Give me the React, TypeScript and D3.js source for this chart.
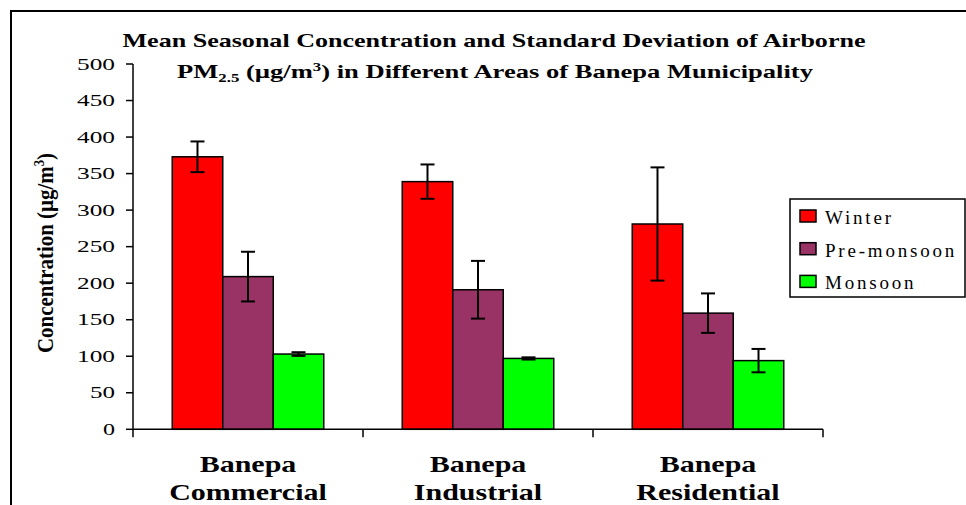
import React from "react";
import * as d3 from "d3";

const categories = ["Banepa Commercial", "Banepa Industrial", "Banepa Residential"];
const seriesNames = ["Winter", "Pre-monsoon", "Monsoon"];
const winterMean = [373, 339, 281];
const winterSD = [21, 23.5, 77.5];
const premonsoonMean = [209, 191, 159];
const premonsoonSD = [34, 39.5, 27];
const monsoonMean = [103, 97, 94];
const monsoonSD = [2.5, 1.5, 16];
const yTicks = [0, 50, 100, 150, 200, 250, 300, 350, 400, 450, 500];
const colors = ["#FF0000", "#993366", "#00FF00"];

const means = [winterMean, premonsoonMean, monsoonMean];
const sds = [winterSD, premonsoonSD, monsoonSD];

export default function App() {
  const W = 966, H = 505;
  const x0 = d3.scaleBand<string>().domain(categories).range([133, 823]).paddingInner(0).paddingOuter(0);
  const x1 = d3.scaleBand<string>().domain(seriesNames).range([0, x0.bandwidth()]).paddingInner(0).paddingOuter(0.777);
  const y = d3.scaleLinear().domain([0, 500]).range([429.3, 64]);
  const serif = "'Liberation Serif', 'Times New Roman', serif";

  return (
    <svg width={W} height={H} style={{ position: "absolute", left: 0, top: 0, background: "#fff" }} fontFamily={serif}>
      <rect x={0} y={0} width={W} height={H} fill="#fff" />
      {/* outer frame */}
      <path d={`M11,${H + 5} L11,11 L${W + 5},11`} fill="none" stroke="#000" strokeWidth={2} />

      {/* title */}
      <text x={494} y={47} textAnchor="middle" fontWeight="bold" fontSize={19} textLength={743} lengthAdjust="spacingAndGlyphs">
        Mean Seasonal Concentration and Standard Deviation of Airborne
      </text>
      <text x={495} y={78} textAnchor="middle" fontWeight="bold" fontSize={19} textLength={636} lengthAdjust="spacingAndGlyphs">
        PM<tspan fontSize={12} dy={4}>2.5</tspan><tspan dy={-4}> (µg/m</tspan><tspan fontSize={12} dy={-7}>3</tspan><tspan dy={7}>) in Different Areas of Banepa Municipality</tspan>
      </text>

      {/* bars */}
      {categories.map((c, ci) => (
        <g key={c} transform={`translate(${x0(c)},0)`}>
          {seriesNames.map((s, si) => {
            const v = means[si][ci];
            const sd = sds[si][ci];
            const bx = x1(s)!;
            const bw = x1.bandwidth();
            const cx = bx + bw / 2;
            return (
              <g key={s}>
                <rect x={bx} y={y(v)} width={bw} height={y(0) - y(v)} fill={colors[si]} stroke="#000" strokeWidth={1.5} />
                <line x1={cx} x2={cx} y1={y(v + sd)} y2={y(v - sd)} stroke="#000" strokeWidth={2} />
                <line x1={cx - 7} x2={cx + 7} y1={y(v + sd)} y2={y(v + sd)} stroke="#000" strokeWidth={2} />
                <line x1={cx - 7} x2={cx + 7} y1={y(v - sd)} y2={y(v - sd)} stroke="#000" strokeWidth={2} />
              </g>
            );
          })}
        </g>
      ))}

      {/* y axis */}
      <line x1={133} x2={133} y1={y(500)} y2={y(0) + 8} stroke="#000" strokeWidth={1.5} />
      {yTicks.map((t) => (
        <g key={t}>
          <line x1={126} x2={133} y1={y(t)} y2={y(t)} stroke="#000" strokeWidth={1.5} />
          <text x={115} y={y(t) + 5.5} textAnchor="end" fontSize={16} textLength={String(t).length * 13 - 1} lengthAdjust="spacingAndGlyphs">
            {t}
          </text>
        </g>
      ))}

      {/* x axis */}
      <line x1={133} x2={823} y1={y(0)} y2={y(0)} stroke="#000" strokeWidth={1.5} />
      {categories.map((c) => (
        <line key={c} x1={x0(c)! + x0.bandwidth()} x2={x0(c)! + x0.bandwidth()} y1={y(0)} y2={y(0) + 8} stroke="#000" strokeWidth={1.5} />
      ))}
      {categories.map((c) => {
        const parts = c.split(" ");
        const cx = x0(c)! + x0.bandwidth() / 2;
        return (
          <g key={c}>
            <text transform={`translate(${cx},472) scale(1.25,1)`} textAnchor="middle" fontWeight="bold" fontSize={24}>{parts[0]}</text>
            <text transform={`translate(${cx},500) scale(1.25,1)`} textAnchor="middle" fontWeight="bold" fontSize={24}>{parts[1]}</text>
          </g>
        );
      })}

      {/* y title */}
      <text transform="translate(53,253) rotate(-90)" textAnchor="middle" fontWeight="bold" fontSize={23} textLength={200} lengthAdjust="spacingAndGlyphs">
        Concentration (µg/m<tspan fontSize={14} dy={-9}>3</tspan><tspan dy={9}>)</tspan>
      </text>

      {/* legend */}
      <rect x={790} y={199} width={175} height={98} fill="#fff" stroke="#000" strokeWidth={1.5} />
      {seriesNames.map((s, si) => (
        <g key={s}>
          <rect x={800} y={210 + si * 32.7} width={16} height={12} fill={colors[si]} stroke="#000" strokeWidth={1.5} />
          <text x={825} y={224 + si * 32.5} fontSize={19} letterSpacing={2.8}>{s}</text>
        </g>
      ))}
    </svg>
  );
}
